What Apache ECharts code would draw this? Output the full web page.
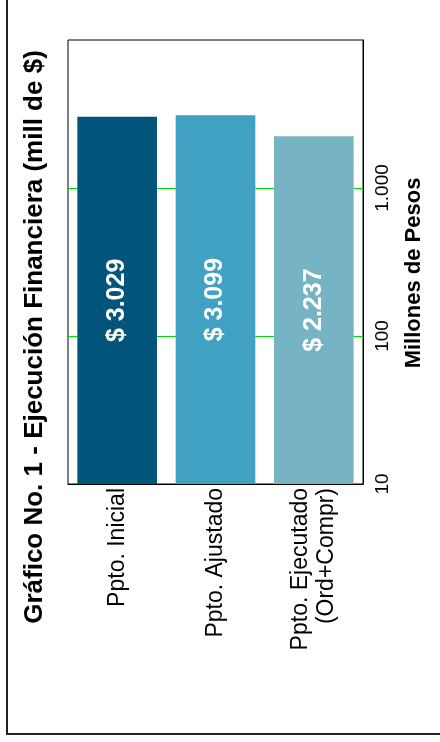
<!DOCTYPE html>
<html>
<head>
<meta charset="utf-8">
<script src="https://cdn.jsdelivr.net/npm/echarts@6/dist/echarts.min.js"></script>
<style>
html,body{margin:0;padding:0;background:#fff;}
#chart{width:440px;height:742px;}
</style>
</head>
<body>
<div id="chart"></div>
<script>
const categories = ['Ppto. Inicial', 'Ppto. Ajustado', 'Ppto. Ejecutado\n(Ord+Compr)'];
const values = [3029, 3099, 2237];
const axisTicks = [10, 100, 1000];
const titleText = 'Gráfico No. 1 - Ejecución Financiera (mill de $)';
const axisTitle = 'Millones de Pesos';

const barColors = ['#03547a', '#41a1c3', '#77b4c3'];
const FONT = '"Liberation Sans", Arial, sans-serif';

function fmt(v) {
  return String(Math.round(v)).replace(/\B(?=(\d{3})+(?!\d))/g, '.');
}

const chart = echarts.init(document.getElementById('chart'), null, {renderer: 'canvas'});
chart.setOption({
  animation: false,
  backgroundColor: '#ffffff',
  grid: {
    left: 68, top: 40, right: 77, bottom: 258,
    show: true, borderColor: '#000', borderWidth: 1, backgroundColor: 'transparent'
  },
  xAxis: {
    type: 'category',
    data: categories,
    axisLine: {show: true, lineStyle: {color: '#000', width: 1}},
    axisTick: {show: false},
    splitLine: {show: false},
    axisLabel: {
      rotate: 90, margin: 4, color: '#000', fontFamily: FONT, fontSize: 23,
      lineHeight: 26, interval: 0
    }
  },
  yAxis: {
    type: 'log',
    logBase: 10,
    min: 10,
    max: 10000,
    position: 'right',
    name: axisTitle,
    nameLocation: 'middle',
    nameRotate: 90,
    nameGap: 40,
    nameTextStyle: {color: '#000', fontFamily: FONT, fontSize: 22, fontWeight: 'bold', padding: [0, 22, 0, 0]},
    axisLine: {show: true, lineStyle: {color: '#000'}},
    axisTick: {show: false},
    minorTick: {show: false},
    minorSplitLine: {show: false},
    splitLine: {show: true, showMinLine: false, showMaxLine: false, lineStyle: {color: ['#00e000'], width: 1, opacity: 1}},
    axisLabel: {
      rotate: 90, margin: 10, color: '#000', fontFamily: FONT, fontSize: 19,
      formatter: function (v) { return axisTicks.indexOf(Math.round(v)) >= 0 ? fmt(v) : ''; }
    }
  },
  series: [{
    type: 'bar',
    data: values.map((v, i) => ({value: v, itemStyle: {color: barColors[i]}})),
    barCategoryGap: '19%',
    label: {
      show: true,
      position: 'inside',
      rotate: 90,
      color: '#fff',
      fontFamily: FONT,
      fontWeight: 'bold',
      fontSize: 25,
      formatter: p => '$ ' + fmt(p.value)
    }
  }],
  graphic: [
    {
      type: 'text',
      x: 35, y: 337,
      rotation: Math.PI / 2,
      style: {
        text: titleText,
        fill: '#000',
        font: 'bold 26px ' + FONT,
        textAlign: 'center',
        textVerticalAlign: 'middle'
      }
    },
    {
      type: 'polyline',
      shape: {points: [[7, 0], [7, 734], [440, 734]]},
      style: {stroke: '#222', lineWidth: 2, fill: null}
    }
  ]
});
</script>
</body>
</html>
